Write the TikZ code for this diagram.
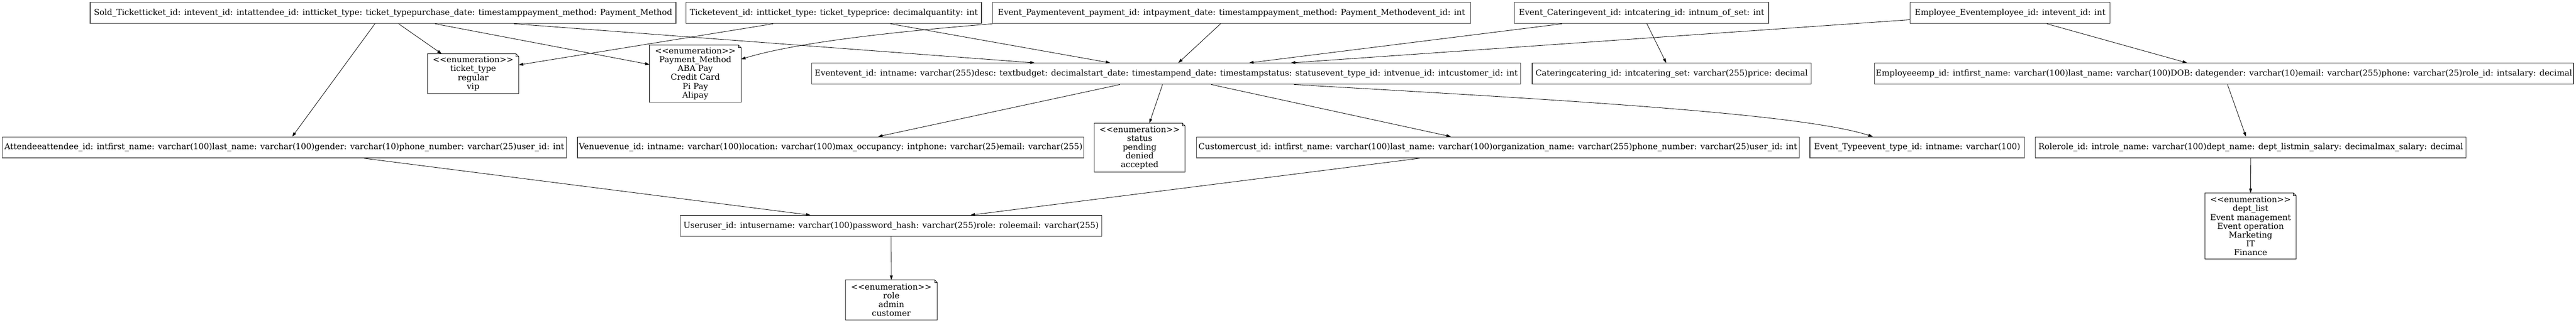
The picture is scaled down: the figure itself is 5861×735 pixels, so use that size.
\documentclass[tikz,border=0pt]{standalone}
\usepackage{fontspec}
\newfontfamily\erdfont{DejaVu Serif}
\usetikzlibrary{arrows.meta,calc}

\begin{document}
\begin{tikzpicture}[x=0.75pt, y=-0.75pt,
  font=\erdfont\fontsize{14}{15}\selectfont,
  entity/.style={draw=black!75, line width=1.1pt, inner sep=0pt, minimum height=36pt},
  enumnote/.style={inner sep=0pt, align=center},
  boxwd/.style={minimum width=#1*0.75pt},
  boxht/.style={minimum height=#1*0.75pt},
  link/.style={-{Triangle[length=7.5pt,width=5pt]}, line width=0.75pt}]

\useasboundingbox (0,0) rectangle (5861,735);

%top row: tables that point to others
\node[entity, boxwd=1333] (sold) at (871.5,29.5) {Sold\_Ticketticket\_id: intevent\_id: intattendee\_id: intticket\_type: ticket\_typepurchase\_date: timestamppayment\_method: Payment\_Method};
\node[entity, boxwd=672] (ticket) at (1897,29.5) {Ticketevent\_id: intticket\_type: ticket\_typeprice: decimalquantity: int};
\node[entity, boxwd=1088] (evpay) at (2802,29.5) {Event\_Paymentevent\_payment\_id: intpayment\_date: timestamppayment\_method: Payment\_Methodevent\_id: int};
\node[entity, boxwd=578] (evcat) at (3735,29.5) {Event\_Cateringevent\_id: intcatering\_id: intnum\_of\_set: int};
\node[entity, boxwd=455] (empev) at (4573.5,29.5) {Employee\_Eventemployee\_id: intevent\_id: int};

%second row
\node[enumnote, boxwd=207, boxht=90] (ttype) at (1076.5,168) {<<enumeration>>\\ticket\_type\\regular\\vip};
\node[enumnote, boxwd=208, boxht=130] (paymeth) at (1582,168) {<<enumeration>>\\Payment\_Method\\ABA Pay\\Credit Card\\Pi Pay\\Alipay};
\node[entity, boxwd=1613] (event) at (2653.5,168) {Eventevent\_id: intname: varchar(255)desc: textbudget: decimalstart\_date: timestampend\_date: timestampstatus: statusevent\_type\_id: intvenue\_id: intcustomer\_id: int};
\node[entity, boxwd=635] (catering) at (3803.5,168) {Cateringcatering\_id: intcatering\_set: varchar(255)price: decimal};
\node[entity, boxwd=1590] (employee) at (5060,168) {Employeeemp\_id: intfirst\_name: varchar(100)last\_name: varchar(100)DOB: dategender: varchar(10)email: varchar(255)phone: varchar(25)role\_id: intsalary: decimal};

%third row
\node[entity, boxwd=1284] (attendee) at (647,336) {Attendeeattendee\_id: intfirst\_name: varchar(100)last\_name: varchar(100)gender: varchar(10)phone\_number: varchar(25)user\_id: int};
\node[entity, boxwd=1152] (venue) at (1890,336) {Venuevenue\_id: intname: varchar(100)location: varchar(100)max\_occupancy: intphone: varchar(25)email: varchar(255)};
\node[enumnote, boxwd=206, boxht=111] (stat) at (2593,336.5) {<<enumeration>>\\status\\pending\\denied\\accepted};
\node[entity, boxwd=1372] (customer) at (3408,336) {Customercust\_id: intfirst\_name: varchar(100)last\_name: varchar(100)organization\_name: varchar(255)phone\_number: varchar(25)user\_id: int};
\node[entity, boxwd=488] (evtype) at (4362,336) {Event\_Typeevent\_type\_id: intname: varchar(100)};
\node[entity, boxwd=980] (role) at (5121,336) {Rolerole\_id: introle\_name: varchar(100)dept\_name: dept\_listmin\_salary: decimalmax\_salary: decimal};

%fourth and fifth row
\node[entity, boxwd=959] (user) at (2027.5,515) {Useruser\_id: intusername: varchar(100)password\_hash: varchar(255)role: roleemail: varchar(255)};
\node[enumnote, boxwd=207, boxht=150] (deptlist) at (5120.5,515) {<<enumeration>>\\dept\_list\\Event management\\Event operation\\Marketing\\IT\\Finance};
\node[enumnote, boxwd=208, boxht=91] (rolelist) at (2028,683.5) {<<enumeration>>\\role\\admin\\customer};

% note outline with folded corner
\foreach \n in {ttype,paymeth,stat,deptlist,rolelist} {
  \draw[line width=0.8pt] (\n.south west) -- (\n.north west) -- ([xshift=-4.5pt]\n.north east) -- ([yshift=-4.5pt]\n.north east) -- (\n.south east) -- cycle;
  \draw[line width=0.5pt] ([xshift=-4.5pt]\n.north east) |- ([yshift=-4.5pt]\n.north east);
}

% links from Sold_Ticket
\draw[link] ($(sold.south)+(-18.5,0)$) -- ($(attendee.north)+(18,0)$);
\draw[link] ($(sold.south)+(35.5,0)$) -- ($(ttype.north)+(-71.5,0)$);
\draw[link] ($(sold.south)+(118.5,0)$) -- ($(paymeth.west)+(0,-21)$);
\draw[link] ($(sold.south)+(297.5,0)$) -- ($(event.north)+(-299.5,0)$);

% links from Ticket and Event_Payment
\draw[link] ($(ticket.south)+(-138,0)$) -- ($(ttype.east)+(0,-20)$);
\draw[link] ($(ticket.south)+(129,0)$) -- ($(event.north)+(-127.5,0)$);
\draw[link] ($(evpay.south)+(-544,0)$) .. controls (2000,75) and (1800,100) .. ($(paymeth.east)+(0,-33)$);
\draw[link] ($(evpay.south)+(-25,0)$) -- ($(event.north)+(27.5,0)$);

% links from Event_Catering and Employee_Event
\draw[link] ($(evcat.south)+(-181,0)$) -- ($(event.north)+(188.5,0)$);
\draw[link] ($(evcat.south)+(12,0)$) -- ($(catering.north)+(-12.5,0)$);
\draw[link] ($(empev.west)+(0,15.5)$) -- ($(event.north)+(283.5,0)$);
\draw[link] ($(empev.south)+(83.5,0)$) -- ($(employee.north)+(-84,0)$);

% links from Event
\draw[link] ($(event.south)+(-105.5,0)$) -- ($(venue.north)+(108,0)$);
\draw[link] ($(event.south)+(-8.5,0)$) -- ($(stat.north)+(22,0)$);
\draw[link] ($(event.south)+(102.5,0)$) -- ($(customer.north)+(-107,0)$);
\draw[link] ($(event.south)+(290.5,0)$) .. controls (3600,230) and (4100,260) .. ($(evtype.north)+(-101,0)$);

% links to User, Role and the enumerations
\draw[link] ($(employee.south)+(8,0)$) -- ($(role.north)+(-11,0)$);
\draw[link] (role.south) -- (deptlist.north);
\draw[link] ($(attendee.south)+(181,0)$) -- ($(user.north)+(-183.5,0)$);
\draw[link] ($(customer.south)+(-178,0)$) -- ($(user.north)+(180.5,0)$);
\draw[link] (user.south) -- (rolelist.north);

\end{tikzpicture}
\end{document}
